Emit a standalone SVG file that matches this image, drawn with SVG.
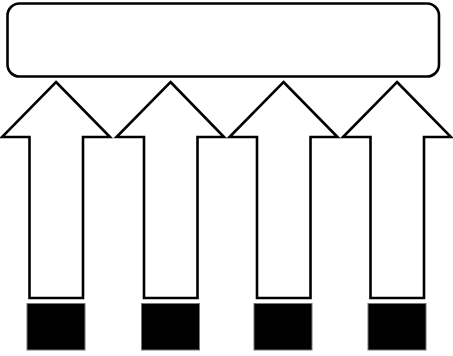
<svg xmlns="http://www.w3.org/2000/svg" width="453" height="356" viewBox="0 0 453 356">
<style>
.box{fill:#fff;stroke:#000;stroke-width:2.6}
.arrow{fill:#fff;stroke:#000;stroke-width:2.6;stroke-linejoin:miter}
.sq{fill:#000;stroke:#777;stroke-width:1}
</style>
<rect width="453" height="356" fill="#fff"/>
<g id="target"><rect class="box" x="7.5" y="3.5" width="431.5" height="73" rx="12"/></g>
<g id="connectors">
<polygon class="arrow" points="56,82 110,137 83,137 83,298 29.5,298 29.5,137 2,137"/>
<polygon class="arrow" points="170.5,82 224,137 197.5,137 197.5,298 144,298 144,137 116.5,137"/>
<polygon class="arrow" points="283.5,82 337.5,137 310.5,137 310.5,298 257,298 257,137 229.5,137"/>
<polygon class="arrow" points="397,82 451,137 424,137 424,298 370.5,298 370.5,137 343,137"/>
</g>
<g id="s1"><rect class="sq" x="27" y="303.5" width="58" height="46.5"/></g>
<g id="s2"><rect class="sq" x="141.5" y="303.5" width="58" height="46.5"/></g>
<g id="s3"><rect class="sq" x="254" y="303.5" width="58" height="46.5"/></g>
<g id="s4"><rect class="sq" x="368" y="303.5" width="58" height="46.5"/></g>
</svg>
